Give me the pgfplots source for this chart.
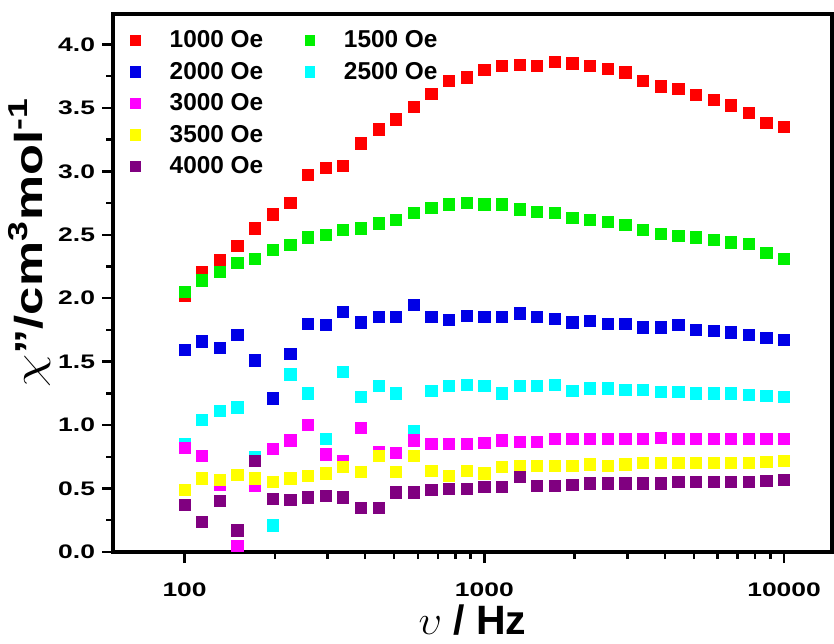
\documentclass[border=0pt]{standalone}
\usepackage{pgfplots}
\pgfplotsset{compat=1.18}
\usepackage{pgfplotstable}
\usepackage{graphicx}
\usepackage{fontspec}
\setmainfont{Liberation Sans}
\newfontfamily\tickfont[FakeStretch=1.35]{Liberation Sans}
\definecolor{cR}{RGB}{255,0,0}
\definecolor{cG}{RGB}{0,240,0}
\definecolor{cB}{RGB}{0,0,230}
\definecolor{cC}{RGB}{0,255,255}
\definecolor{cM}{RGB}{255,0,255}
\definecolor{cY}{RGB}{255,255,0}
\definecolor{cP}{RGB}{128,0,128}
\pgfplotstableread{
f      a     b     c     d     e     g     h
100    2.02  2.05  1.59  0.85  0.82  0.49  0.37
114.5  2.21  2.14  1.66  1.04  0.76  0.58  0.24
131.1  2.30  2.21  1.61  1.11  0.53  0.57  0.40
150.1  2.41  2.28  1.71  1.14  0.05  0.61  0.17
171.9  2.55  2.31  1.51  0.75  0.52  0.58  0.72
196.8  2.66  2.38  1.21  0.21  0.81  0.55  0.42
225.4  2.75  2.42  1.56  1.40  0.88  0.58  0.41
258.1  2.97  2.48  1.80  1.25  1.00  0.60  0.43
295.5  3.03  2.50  1.79  0.89  0.77  0.62  0.44
338.4  3.04  2.54  1.89  1.42  0.72  0.67  0.43
387.5  3.22  2.55  1.81  1.22  0.98  0.63  0.35
443.7  3.33  2.59  1.85  1.31  0.79  0.76  0.35
508.0  3.41  2.62  1.85  1.25  0.78  0.63  0.47
581.7  3.51  2.67  1.95  0.95  0.88  0.76  0.47
666.0  3.61  2.71  1.85  1.27  0.85  0.64  0.49
762.7  3.71  2.74  1.83  1.31  0.85  0.60  0.50
873.3  3.74  2.75  1.86  1.32  0.85  0.64  0.50
1000   3.80  2.74  1.85  1.31  0.86  0.62  0.51
1145   3.83  2.74  1.85  1.25  0.88  0.67  0.51
1311   3.84  2.70  1.88  1.31  0.87  0.68  0.59
1501   3.83  2.68  1.85  1.31  0.87  0.68  0.52
1719   3.86  2.67  1.84  1.32  0.89  0.68  0.52
1968   3.85  2.63  1.81  1.27  0.89  0.68  0.53
2254   3.83  2.62  1.82  1.29  0.89  0.69  0.54
2581   3.81  2.60  1.80  1.29  0.89  0.68  0.54
2955   3.78  2.58  1.80  1.28  0.89  0.69  0.54
3384   3.71  2.54  1.77  1.28  0.89  0.70  0.54
3875   3.67  2.51  1.77  1.26  0.90  0.70  0.54
4437   3.65  2.49  1.79  1.26  0.89  0.70  0.55
5080   3.60  2.48  1.75  1.25  0.89  0.70  0.55
5817   3.56  2.46  1.74  1.25  0.89  0.70  0.55
6660   3.52  2.44  1.73  1.25  0.89  0.70  0.55
7627   3.46  2.43  1.71  1.24  0.89  0.70  0.55
8733   3.38  2.36  1.69  1.23  0.89  0.71  0.56
10000  3.35  2.31  1.67  1.22  0.89  0.72  0.57
}\datatab
\begin{document}
\begin{tikzpicture}
\begin{axis}[
  name=ax,
  scale only axis,
  width=359.5pt, height=269pt,
  xmode=log,
  xmin=57.7, xmax=14450,
  ymin=0, ymax=4.24,
  axis line style={line width=1.6pt},
  tick style={line width=1.2pt, black},
  major tick length=5.5pt,
  minor tick length=3.5pt,
  tick align=outside,
  tick pos=left,
  xtick={100,1000,10000},
  xticklabels={100,1000,10000},
  ytick={0,0.5,...,4.0},
  minor y tick num=1,
  /pgf/number format/assume math mode=true,
  yticklabel style={/pgf/number format/.cd, fixed, fixed zerofill, precision=1},
  ticklabel style={font=\tickfont\bfseries\fontsize{9.8}{11}\selectfont},
  xticklabel style={yshift=-6.5pt},
  xlabel={$\upsilon$ \textbf{/ Hz}},
  ylabel={\scalebox{1.3}[1]{$\chi$\textbf{"/cm\textsuperscript{3}mol\textsuperscript{-1}}}},
  xlabel style={font=\fontsize{20.5}{24}\selectfont, yshift=3pt},
  ylabel style={font=\fontsize{19.5}{23}\selectfont, at={(ticklabel cs:0.575)}},
  ylabel shift=-3pt,
  legend columns=2,
  legend cell align=left,
  legend style={draw=none, fill=none, font=\bfseries\fontsize{12.2}{14}\selectfont,
    at={(axis description cs:0.005,0.985)}, anchor=north west,
    /tikz/every even column/.append style={column sep=15pt},
    row sep=1.75pt},
  legend image code/.code={\path[draw=none,fill=none] (0cm,-3pt) rectangle (0.75cm,3pt); \fill[#1,draw=none] (0.22cm,0cm) ++(-2.6pt,-2.9pt) rectangle ++(5.2pt,5.8pt);},
  every axis plot/.append style={only marks, mark=square*, mark size=2.8pt},
]
\addplot[forget plot, cR, mark options={draw=cR, fill=cR}] table[x=f, y=a] {\datatab};
\addplot[forget plot, cG, mark options={draw=cG, fill=cG}] table[x=f, y=b] {\datatab};
\addplot[forget plot, cB, mark options={draw=cB, fill=cB}] table[x=f, y=c] {\datatab};
\addplot[forget plot, cC, mark options={draw=cC, fill=cC}] table[x=f, y=d] {\datatab};
\addplot[forget plot, cM, mark options={draw=cM, fill=cM}] table[x=f, y=e] {\datatab};
\addplot[forget plot, cY, mark options={draw=cY, fill=cY}] table[x=f, y=g] {\datatab};
\addplot[forget plot, cP, mark options={draw=cP, fill=cP}] table[x=f, y=h] {\datatab};
\addlegendimage{cR}
\addlegendentry{1000 Oe}
\addlegendimage{cG}
\addlegendentry{1500 Oe}
\addlegendimage{cB}
\addlegendentry{2000 Oe}
\addlegendimage{cC}
\addlegendentry{2500 Oe}
\addlegendimage{cM}
\addlegendentry{3000 Oe}
\addlegendimage{empty legend}
\addlegendentry{}
\addlegendimage{cY}
\addlegendentry{3500 Oe}
\addlegendimage{empty legend}
\addlegendentry{}
\addlegendimage{cP}
\addlegendentry{4000 Oe}
\end{axis}
\pgfresetboundingbox
\path ([shift={(-56.5pt,-45.5pt)}]ax.south west) rectangle ([shift={(1pt,7pt)}]ax.north east);
\end{tikzpicture}
\end{document}
